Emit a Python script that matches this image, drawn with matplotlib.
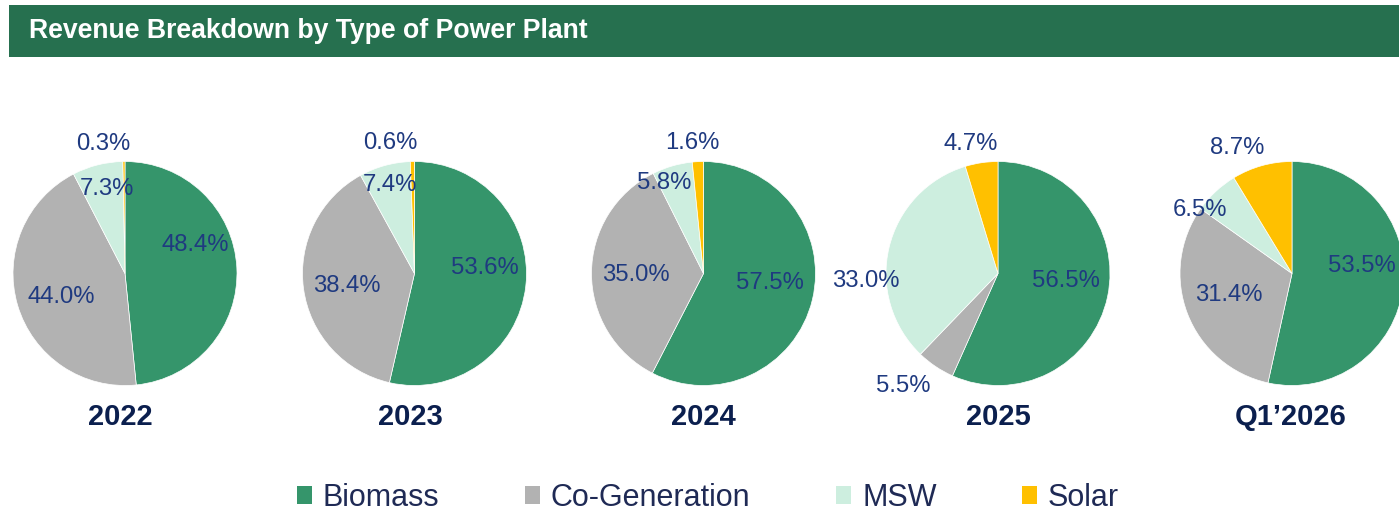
import matplotlib
matplotlib.use("Agg")
import matplotlib.pyplot as plt
from matplotlib.patches import Rectangle, Patch

plt.rcParams['font.family'] = ['Liberation Sans', 'DejaVu Sans']

# ---- data ----
categories = ["Biomass", "Co-Generation", "MSW", "Solar"]
periods = ["2022", "2023", "2024", "2025", "Q1\u20192026"]
biomass = [48.4, 53.6, 57.5, 56.5, 53.5]
cogen = [44.0, 38.4, 35.0, 5.5, 31.4]
msw = [7.3, 7.4, 5.8, 33.0, 6.5]
solar = [0.3, 0.6, 1.6, 4.7, 8.7]
title = "Revenue Breakdown by Type of Power Plant"

# ---- style / layout ----
colors = ["#35956B", "#B2B2B2", "#CDEEDF", "#FFC000"]
pct_color = "#1F3A80"
year_color = "#0B1F4E"
legend_color = "#1F2A55"
W, H = 1399, 515
centers_x = [125, 414.5, 703.5, 998, 1292]
center_y = 273.5          # from top
R = 112
# label offsets in units of radius (x right, y up), per pie, per category
label_offsets = [
    [(0.625, 0.254), (-0.567, -0.214), (-0.165, 0.754), (-0.196, 1.156)],
    [(0.625, 0.049), (-0.603, -0.112), (-0.219, 0.790), (-0.219, 1.161)],
    [(0.594, -0.089), (-0.603, -0.013), (-0.353, 0.804), (-0.103, 1.161)],
    [(0.603, -0.067), (-0.844, -1.004), (-1.183, -0.067), (-0.246, 1.152)],
    [(0.621, 0.063), (-0.567, -0.196), (-0.817, 0.567), (-0.491, 1.125)],
]
year_dx = [-5, -4.5, 0, 0, -1]
year_y = 417  # from top

fig = plt.figure(figsize=(W / 100, H / 100), dpi=100)
ax = fig.add_axes([0, 0, 1, 1])

# title bar
ax.add_patch(Rectangle((9, H - 57), W - 9, 52, facecolor="#26704F", edgecolor="none", zorder=0))
ax.text(29, H - 31, title, color="white", fontsize=19.2, fontweight="bold",
        ha="left", va="center")

series = [biomass, cogen, msw, solar]
for i, cx in enumerate(centers_x):
    vals = [s[i] for s in series]
    cy = H - center_y
    ax.pie(vals, colors=colors, startangle=90, counterclock=False,
           center=(cx, cy), radius=R,
           wedgeprops=dict(edgecolor="white", linewidth=0.5))
    for j, v in enumerate(vals):
        fx, fy = label_offsets[i][j]
        ax.text(cx + fx * R, cy + fy * R, f"{v:.1f}%", color=pct_color,
                fontsize=17.2, ha="center", va="center")
    ax.text(cx + year_dx[i], H - year_y, periods[i], color=year_color,
            fontsize=21, fontweight="bold", ha="center", va="center")

ax.set_xlim(0, W)
ax.set_ylim(0, H)
ax.set_aspect("equal")
ax.axis("off")

handles = [Patch(facecolor=c, edgecolor="none") for c in colors]
fig.legend(handles, categories, loc="center", bbox_to_anchor=(708 / W, (H - 498) / H),
           ncol=4, frameon=False, fontsize=22, handlelength=0.5, handleheight=0.5,
           handletextpad=0.35, columnspacing=2.8, labelcolor=legend_color)

fig.savefig("out.png", dpi=100)
